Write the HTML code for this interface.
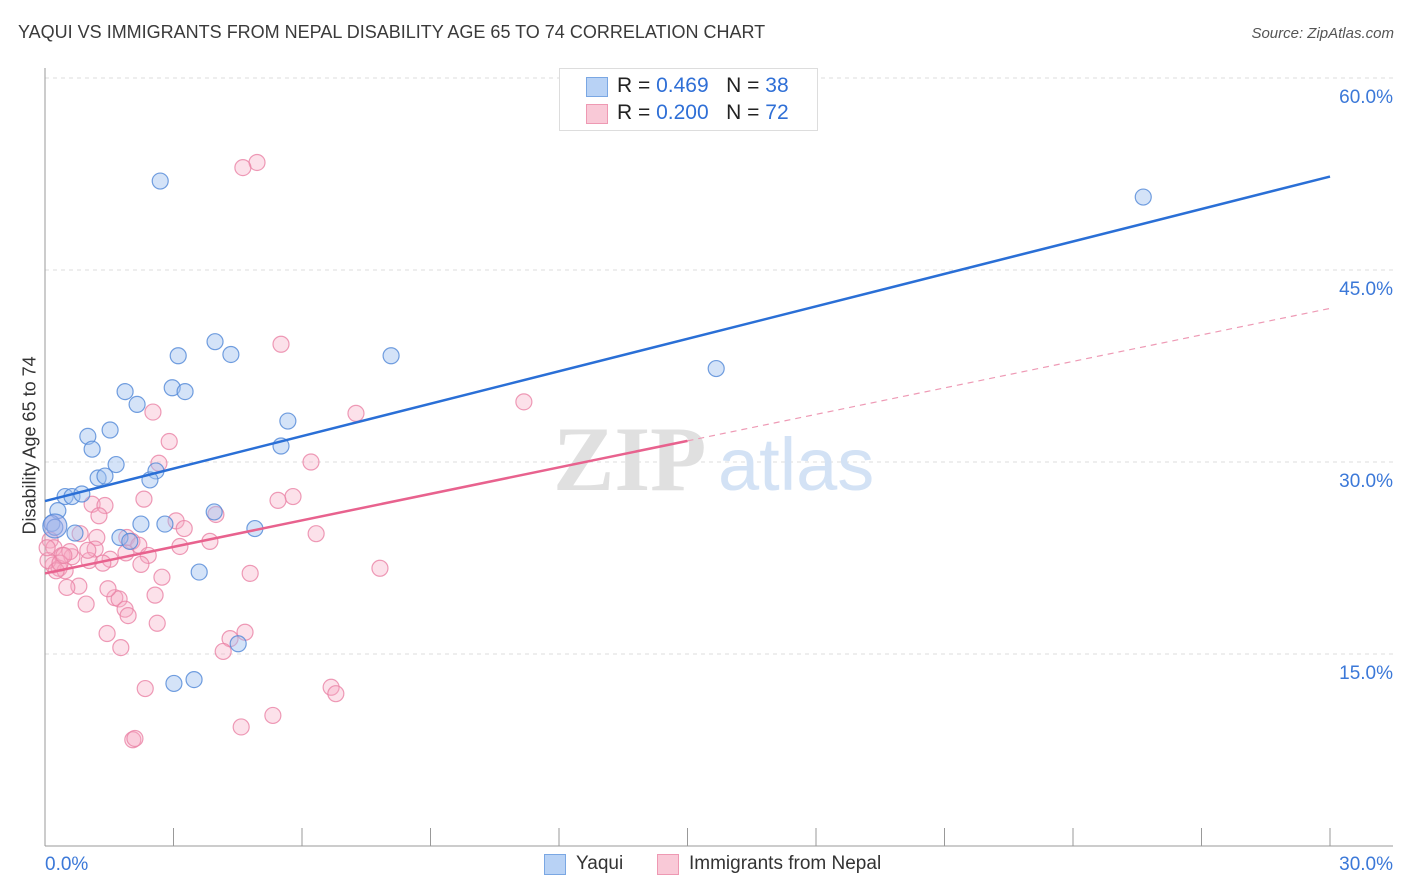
<!DOCTYPE html>
<html><head><meta charset="utf-8">
<style>
body{margin:0;background:#fff;font-family:"Liberation Sans",sans-serif;}
#wrap{position:relative;width:1406px;height:892px;overflow:hidden;}
.t{position:absolute;white-space:nowrap;}
</style></head>
<body>
<div id="wrap">
<div class="t" style="left:18px;top:22px;font-size:18px;color:#3a3a3a;">YAQUI VS IMMIGRANTS FROM NEPAL DISABILITY AGE 65 TO 74 CORRELATION CHART</div>
<div class="t" style="right:12px;top:25px;font-size:15px;color:#555;font-style:italic;">Source: ZipAtlas.com</div>
<div class="t" style="left:-50px;top:444px;font-size:18px;color:#333;transform:rotate(-90deg);width:160px;text-align:center;">Disability Age 65 to 74</div>
<svg id="svg" width="1406" height="892" style="position:absolute;left:0;top:0;"></svg>
<div style="position:absolute;left:559px;top:68px;width:257px;height:61px;border:1px solid #ddd;background:#fff;">
 <div style="position:absolute;left:26px;top:8px;width:20px;height:18px;background:#b8d2f5;border:1px solid #7aa7e3;"></div>
 <div class="t" style="left:57px;top:5px;font-size:21px;color:#222;">R = <span style="color:#2f6fd6">0.469</span> &nbsp; N = <span style="color:#2f6fd6">38</span></div>
 <div style="position:absolute;left:26px;top:35px;width:20px;height:18px;background:#f9c9d7;border:1px solid #ee99b3;"></div>
 <div class="t" style="left:57px;top:32px;font-size:21px;color:#222;">R = <span style="color:#2f6fd6">0.200</span> &nbsp; N = <span style="color:#2f6fd6">72</span></div>
</div>
<div style="position:absolute;left:544px;top:853px;height:24px;">
 <div style="position:absolute;left:0;top:1px;width:20px;height:19px;background:#b8d2f5;border:1px solid #7aa7e3;"></div>
 <div class="t" style="left:32px;top:0;font-size:19px;color:#333;">Yaqui</div>
 <div style="position:absolute;left:113px;top:1px;width:20px;height:19px;background:#f9c9d7;border:1px solid #ee99b3;"></div>
 <div class="t" style="left:145px;top:0;font-size:19px;color:#333;">Immigrants from Nepal</div>
</div>
</div>
<script>
const yTicks=[15,30,45,60];
const xTickLabels=["0.0%","30.0%"];
const blueX=[2.69,25.64,3.97,4.34,3.11,8.08,15.67,1.87,2.97,3.27,2.15,5.67,1.52,1.00,1.10,5.51,1.66,2.59,1.24,1.40,2.45,0.47,0.63,0.86,0.30,0.16,0.23,0.70,2.24,2.80,3.95,4.90,1.75,1.98,3.60,4.51,3.01,3.48];
const blueY=[51.95,50.7,39.4,38.4,38.3,38.3,37.3,35.5,35.8,35.5,34.5,33.2,32.5,32.0,31.0,31.25,29.8,29.3,28.75,28.9,28.6,27.3,27.3,27.5,26.2,25.2,24.9,24.45,25.15,25.15,26.1,24.8,24.1,23.8,21.4,15.8,12.7,13.0];
const pinkX=[4.95,4.62,5.51,11.18,7.26,2.52,2.90,6.21,2.66,5.79,5.44,2.31,1.10,1.40,1.26,3.99,3.06,3.25,6.33,0.82,1.91,1.21,0.12,2.03,3.85,3.15,2.19,0.21,1.17,1.89,2.41,0.40,0.63,1.52,1.03,2.24,0.19,0.33,0.47,7.82,4.79,2.73,0.79,0.51,2.57,0.96,1.63,1.73,1.87,1.94,2.62,1.45,4.32,4.67,4.16,1.77,6.68,6.79,2.34,5.32,4.58,2.05,2.10,0.07,0.26,0.58,1.35,1.00,0.35,0.05,1.47,0.44];
const pinkY=[53.4,53.0,39.2,34.7,33.8,33.9,31.6,30.0,29.9,27.3,27.0,27.1,26.7,26.6,25.8,25.9,25.4,24.8,24.4,24.4,24.1,24.1,23.9,23.8,23.8,23.4,23.5,23.3,23.2,22.9,22.7,22.7,22.6,22.4,22.3,22.0,21.95,21.7,21.5,21.7,21.3,21.0,20.3,20.2,19.6,18.9,19.4,19.3,18.5,18.0,17.4,16.6,16.2,16.7,15.2,15.5,12.4,11.9,12.3,10.2,9.3,8.3,8.4,22.3,21.5,23.0,22.1,23.1,22.1,23.3,20.1,22.7];
const blueLine=[26.95,52.3];
const pinkLine=[21.3,42.0];
const pinkSolidEnd=15.0;

const X=v=>45+v/30*1285;
const Y=v=>846-v*12.8;
const svg=document.getElementById('svg');
const NS='http://www.w3.org/2000/svg';
function mk(tag,attrs){const e=document.createElementNS(NS,tag);for(const k in attrs)e.setAttribute(k,attrs[k]);svg.appendChild(e);return e;}
yTicks.forEach(v=>{
 const g=mk('line',{x1:45,x2:1393,y1:Y(v),y2:Y(v),stroke:'#ddd','stroke-dasharray':'4,4'});
 
 
 const t=mk('text',{x:1393,y:Y(v)+25,'text-anchor':'end','font-size':19,fill:'#3b78d8','font-family':'Liberation Sans, sans-serif'});
 t.textContent=v.toFixed(1)+'%';
 
 
});
const ax=mk('line',{x1:45,x2:1393,y1:846,y2:846,stroke:'#999'});


const ay=mk('line',{x1:45,x2:45,y1:68,y2:846,stroke:'#999'});


for(let i=0;i<=10;i++){
 const tk=mk('line',{x1:X(i*3),x2:X(i*3),y1:828,y2:846,stroke:'#999'});
 
 
}
xTickLabels.forEach((s,i)=>{
 const t=mk('text',{x:i?1393:45,y:870,'text-anchor':i?'end':'start','font-size':19,fill:'#3b78d8','font-family':'Liberation Sans, sans-serif'});
 t.textContent=s;
 
 
});
const wm1=mk('text',{x:553,y:490,'font-size':92,fill:'#e0e0e0','font-family':'Liberation Serif, serif','font-weight':'bold'});
wm1.textContent='ZIP';


const wm2=mk('text',{x:718,y:490,'font-size':74,fill:'#d3e2f5','font-family':'Liberation Sans, sans-serif'});
wm2.textContent='atlas';


pinkX.forEach((x,i)=>{
 const c=mk('circle',{cx:X(x),cy:Y(pinkY[i]),r:8,fill:'rgba(245,170,195,0.35)',stroke:'rgba(234,130,165,0.8)','stroke-width':1.2});
 
 
});
blueX.forEach((x,i)=>{
 const c=mk('circle',{cx:X(x),cy:Y(blueY[i]),r:8,fill:'rgba(160,192,240,0.45)',stroke:'rgba(80,135,215,0.8)','stroke-width':1.2});
 
 
});
const big=mk('circle',{cx:X(0.23),cy:Y(25.0),r:12,fill:'rgba(160,170,230,0.5)',stroke:'rgba(80,135,215,0.8)','stroke-width':1.2});


const ps=pinkLine[0]+(pinkLine[1]-pinkLine[0])*pinkSolidEnd/30;
const pd=mk('line',{x1:X(pinkSolidEnd),y1:Y(ps),x2:X(30),y2:Y(pinkLine[1]),stroke:'#ee9ab5','stroke-width':1.2,'stroke-dasharray':'6,5'});


const pl=mk('line',{x1:X(0),y1:Y(pinkLine[0]),x2:X(pinkSolidEnd),y2:Y(ps),stroke:'#e8628e','stroke-width':2.5});


const bl=mk('line',{x1:X(0),y1:Y(blueLine[0]),x2:X(30),y2:Y(blueLine[1]),stroke:'#2a6fd6','stroke-width':2.5});


</script>
</body></html>
